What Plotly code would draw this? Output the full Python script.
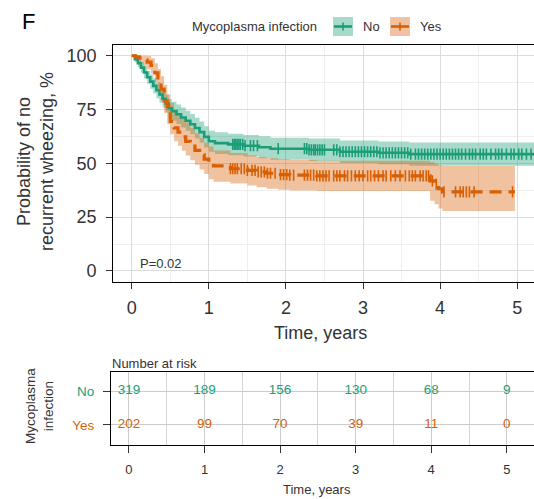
import numpy as np
import plotly.graph_objects as go

# ---------------- data ----------------
group_names = ["No", "Yes"]
legend_title = "Mycoplasma infection"

# Kaplan-Meier steps, group "No"
no_time = [0, 0.04, 0.08, 0.12, 0.16, 0.20, 0.24, 0.28, 0.32, 0.36, 0.40, 0.44, 0.48, 0.52, 0.58,
           0.64, 0.70, 0.76, 0.82, 0.88, 0.94, 1.00, 1.08, 1.25, 1.45, 1.65, 1.80, 2.30, 2.70, 3.20, 3.60]
no_surv = [100, 98.4, 96.5, 94.5, 92.2, 90.0, 88.0, 86.0, 84.0, 82.0, 80.0, 77.8, 75.6, 74.2, 72.8,
           71.3, 69.8, 68.2, 66.4, 64.5, 62.3, 60.3, 59.4, 58.8, 58.2, 57.5, 56.8, 56.3, 55.4, 54.9, 54.3]
no_lower = [100, 97.0, 94.6, 92.1, 89.4, 87.0, 84.7, 82.5, 80.3, 78.2, 76.0, 73.6, 71.3, 69.8, 68.3,
            66.7, 65.1, 63.5, 61.6, 59.6, 57.4, 55.4, 54.4, 53.8, 53.2, 52.4, 51.7, 51.1, 50.2, 49.6, 48.9]
no_upper = [100, 99.8, 98.4, 96.9, 95.0, 93.0, 91.3, 89.5, 87.7, 85.8, 84.0, 82.0, 79.9, 78.6, 77.3,
            75.9, 74.5, 72.9, 71.2, 69.4, 67.2, 65.2, 64.4, 63.8, 63.2, 62.6, 61.9, 61.5, 60.6, 60.2, 59.7]
no_end = 5.3
no_censor = [1.31, 1.33, 1.35, 1.37, 1.39, 1.41, 1.44, 1.47, 1.54, 1.58, 1.63, 1.90, 2.24, 2.27, 2.30,
             2.33, 2.36, 2.38, 2.41, 2.44, 2.47, 2.50, 2.62, 2.66, 2.70, 2.74, 2.78, 2.82, 2.86, 2.90,
             2.94, 2.98, 3.02, 3.06, 3.10, 3.14, 3.18, 3.22, 3.26, 3.30, 3.34, 3.38, 3.42, 3.46, 3.50,
             3.54, 3.58, 3.62, 3.68, 3.72, 3.76, 3.80, 3.84, 3.88, 3.92, 3.96, 4.00, 4.04, 4.08, 4.12,
             4.16, 4.20, 4.24, 4.28, 4.33, 4.38, 4.42, 4.46, 4.52, 4.56, 4.60, 4.66, 4.72, 4.76, 4.80,
             4.86, 4.92, 4.96, 5.02, 5.06, 5.12, 5.18]

# Kaplan-Meier steps, group "Yes"
yes_time = [0, 0.05, 0.10, 0.15, 0.20, 0.25, 0.30, 0.34, 0.38, 0.42, 0.46, 0.50, 0.55, 0.60, 0.65,
            0.70, 0.76, 0.82, 0.88, 0.94, 1.00, 1.06, 1.28, 1.50, 1.62, 1.75, 1.90, 2.05, 2.40, 3.87,
            3.93, 3.98, 4.03]
yes_surv = [100, 99.5, 99.0, 98.0, 97.0, 95.5, 92.0, 88.5, 84.5, 79.0, 74.0, 69.5, 66.5, 64.5, 62.3,
            60.2, 58.0, 56.0, 54.0, 52.0, 50.2, 48.8, 47.5, 46.7, 46.0, 45.4, 44.8, 44.5, 44.2, 41.9,
            40.3, 38.2, 36.7]
yes_lower = [100, 97.5, 96.5, 95.0, 93.6, 91.8, 87.8, 83.8, 79.4, 73.5, 68.2, 63.5, 60.3, 58.2, 55.9,
             53.7, 51.4, 49.3, 47.2, 45.1, 42.6, 41.5, 40.6, 39.7, 38.9, 38.2, 37.7, 37.4, 37.2, 32.6,
             31.0, 29.0, 27.9]
yes_upper = [100, 100, 100, 100, 99.9, 98.8, 96.5, 93.8, 90.5, 86.5, 82.0, 78.0, 75.0, 73.0, 71.0,
             69.0, 66.5, 64.0, 61.8, 59.6, 57.8, 56.0, 54.8, 53.8, 53.0, 52.4, 51.9, 51.6, 51.2, 50.5,
             49.8, 49.0, 48.8]
yes_end = 4.97
yes_censor = [1.28, 1.31, 1.34, 1.37, 1.42, 1.46, 1.50, 1.56, 1.60, 1.64, 1.68, 1.72, 1.76, 1.80, 1.86,
              1.93, 1.97, 2.01, 2.05, 2.10, 2.24, 2.28, 2.32, 2.36, 2.40, 2.44, 2.48, 2.52, 2.56, 2.62,
              2.66, 2.70, 2.76, 2.80, 2.85, 2.90, 2.95, 3.00, 3.06, 3.10, 3.15, 3.20, 3.26, 3.30, 3.36,
              3.42, 3.48, 3.55, 3.60, 3.64, 3.68, 3.74, 3.78, 3.82, 3.85, 3.90, 3.95, 4.05, 4.20, 4.26,
              4.30, 4.34, 4.38, 4.44, 4.94]

# number at risk
risk_times = [0, 1, 2, 3, 4, 5]
risk_no = [319, 189, 156, 130, 68, 9]
risk_yes = [202, 99, 70, 39, 11, 0]

p_text = "P=0.02"
x_ticks = [0, 1, 2, 3, 4, 5]
y_ticks = [0, 25, 50, 75, 100]

# ---------------- style ----------------
W, H = 534, 499
GREEN = "#1B9E77"
ORANGE = "#D95F02"
GREEN_F = "rgba(27,158,119,0.38)"
ORANGE_F = "rgba(217,95,2,0.38)"
FONT = "Liberation Sans, Arial, Helvetica, sans-serif"
TXT = "#333333"


def px(x):
    return x / W


def py(y):
    return 1 - y / H


def step_value(times, values, q):
    idx = np.searchsorted(np.array(times), np.array(q), side="right") - 1
    return list(np.array(values)[idx])


fig = go.Figure()

# confidence bands
for t, lo, hi, end, col in [(no_time, no_lower, no_upper, no_end, GREEN_F),
                            (yes_time, yes_lower, yes_upper, yes_end, ORANGE_F)]:
    xs = t + [end]
    fig.add_trace(go.Scatter(x=xs, y=lo + [lo[-1]], mode="lines", line=dict(width=0, shape="hv"),
                             hoverinfo="skip", showlegend=False))
    fig.add_trace(go.Scatter(x=xs, y=hi + [hi[-1]], mode="lines", line=dict(width=0, shape="hv"),
                             fill="tonexty", fillcolor=col, hoverinfo="skip", showlegend=False))

# survival curves
fig.add_trace(go.Scatter(x=no_time + [no_end], y=no_surv + [no_surv[-1]], mode="lines",
                         line=dict(color=GREEN, width=2.6, shape="hv"), showlegend=False))
fig.add_trace(go.Scatter(x=yes_time + [yes_end], y=yes_surv + [yes_surv[-1]], mode="lines",
                         line=dict(color=ORANGE, width=3.2, shape="hv", dash="12px,7px"), showlegend=False))

# censor marks
fig.add_trace(go.Scatter(x=no_censor, y=step_value(no_time, no_surv, no_censor), mode="markers",
                         marker=dict(symbol="line-ns", size=8, line=dict(color=GREEN, width=1.6)),
                         showlegend=False))
fig.add_trace(go.Scatter(x=yes_censor, y=step_value(yes_time, yes_surv, yes_censor), mode="markers",
                         marker=dict(symbol="line-ns", size=8, line=dict(color=ORANGE, width=1.6)),
                         showlegend=False))

# risk table
fig.add_trace(go.Scatter(x=risk_times, y=[2] * len(risk_times), mode="text",
                         text=[str(v) for v in risk_no], textfont=dict(color=GREEN, size=13.5, family=FONT),
                         xaxis="x2", yaxis="y2", showlegend=False))
fig.add_trace(go.Scatter(x=risk_times, y=[1] * len(risk_times), mode="text",
                         text=[str(v) for v in risk_yes], textfont=dict(color=ORANGE, size=13.5, family=FONT),
                         xaxis="x2", yaxis="y2", showlegend=False))

axis_common = dict(showline=True, linecolor="black", linewidth=1.2, ticks="outside", tickcolor=TXT,
                   tickwidth=1, zeroline=False)

fig.update_layout(
    width=W, height=H, margin=dict(l=0, r=0, t=0, b=0),
    paper_bgcolor="white", plot_bgcolor="white",
    font=dict(family=FONT, color=TXT),
    showlegend=False,
    xaxis=dict(domain=[px(113.3), 1], range=[-0.239, 5.218], tickvals=x_ticks, anchor="y",
               showgrid=True, gridcolor="#dcdcdc", gridwidth=1,
               minor=dict(dtick=0.5, tick0=0, showgrid=True, gridcolor="#eeeeee", gridwidth=0.8, ticks=""),
               mirror=True, ticklen=6, tickfont=dict(size=18, color=TXT), ticklabelstandoff=4,
               **axis_common),
    yaxis=dict(domain=[py(281.7), py(45)], range=[-5, 105], tickvals=y_ticks, anchor="x",
               showgrid=True, gridcolor="#dcdcdc", gridwidth=1,
               minor=dict(dtick=12.5, tick0=0, showgrid=True, gridcolor="#eeeeee", gridwidth=0.8, ticks=""),
               mirror=False, ticklen=6, tickfont=dict(size=18, color=TXT), ticklabelstandoff=6,
               **axis_common),
    xaxis2=dict(domain=[px(111), 1], range=[-0.238, 5.36], tickvals=x_ticks, anchor="y2",
                showgrid=True, gridcolor="#cccccc", gridwidth=1,
                minor=dict(dtick=0.5, tick0=0, showgrid=True, gridcolor="#d4d4d4", gridwidth=1, ticks=""),
                mirror=True, ticklen=7, tickfont=dict(size=13, color=TXT), ticklabelstandoff=5,
                **axis_common),
    yaxis2=dict(domain=[py(445), py(372)], range=[0.41, 2.56], tickvals=[2, 1],
                ticktext=["<span style='color:%s'>%s</span>" % (GREEN, group_names[0]),
                          "<span style='color:%s'>%s</span>" % (ORANGE, group_names[1])],
                anchor="x2", showgrid=True, gridcolor="#cccccc", gridwidth=1,
                mirror=False, ticklen=7, tickfont=dict(size=13.5), ticklabelstandoff=6,
                **axis_common),
)

annotations = [
    dict(text="F", x=px(20), y=py(21), xanchor="left", yanchor="middle", font=dict(size=22, color="black")),
    dict(text=legend_title, x=px(190), y=py(26), xanchor="left", yanchor="middle", font=dict(size=13, color=TXT)),
    dict(text=group_names[0], x=px(361), y=py(26), xanchor="left", yanchor="middle", font=dict(size=13, color=TXT)),
    dict(text=group_names[1], x=px(418), y=py(26), xanchor="left", yanchor="middle", font=dict(size=13, color=TXT)),
    dict(text=p_text, x=px(138), y=py(263), xanchor="left", yanchor="middle", font=dict(size=13, color=TXT)),
    dict(text="Time, years", x=px(320), y=py(333), xanchor="center", yanchor="middle", font=dict(size=18, color=TXT)),
    dict(text="Probability of no<br>recurrent wheezing, %", x=px(35), y=py(162), textangle=-90,
         xanchor="center", yanchor="middle", font=dict(size=18, color=TXT)),
    dict(text="Number at risk", x=px(110), y=py(363), xanchor="left", yanchor="middle", font=dict(size=13, color=TXT)),
    dict(text="Mycoplasma<br>infection", x=px(39), y=py(406), textangle=-90,
         xanchor="center", yanchor="middle", font=dict(size=13.5, color=TXT)),
    dict(text="Time, years", x=px(317), y=py(489), xanchor="center", yanchor="middle", font=dict(size=13, color=TXT)),
]
for a in annotations:
    a.update(xref="paper", yref="paper", showarrow=False)
fig.update_layout(annotations=annotations)

# legend keys (manual)
shapes = []
for x0, fill, col in [(333, GREEN_F, GREEN), (390, ORANGE_F, ORANGE)]:
    shapes.append(dict(type="rect", xref="paper", yref="paper", x0=px(x0), x1=px(x0 + 20),
                       y0=py(36), y1=py(17), fillcolor=fill, line=dict(width=0)))
    shapes.append(dict(type="line", xref="paper", yref="paper", x0=px(x0 + 1), x1=px(x0 + 19),
                       y0=py(26.5), y1=py(26.5), line=dict(color=col, width=2.6)))
    shapes.append(dict(type="line", xref="paper", yref="paper", x0=px(x0 + 10), x1=px(x0 + 10),
                       y0=py(22.5), y1=py(30.5), line=dict(color=col, width=1.6)))
fig.update_layout(shapes=shapes)

fig.write_html("out.html")
